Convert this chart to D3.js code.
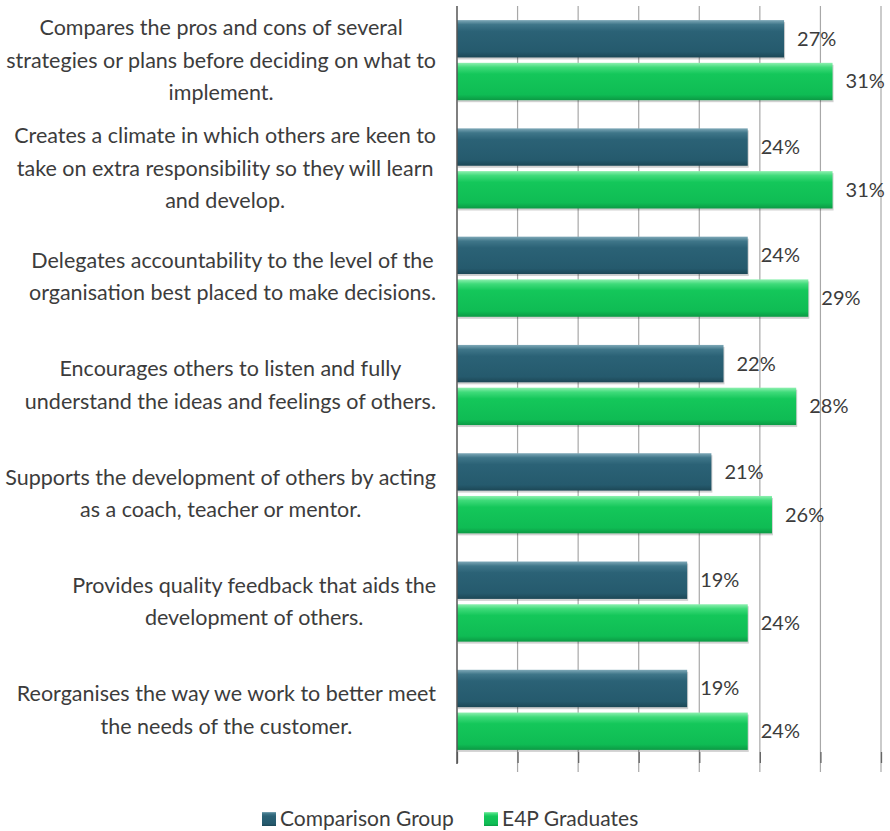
<!DOCTYPE html>
<html><head><meta charset="utf-8">
<script src="https://cdn.jsdelivr.net/npm/d3@7"></script>
<style>body{margin:0;background:#fff;} text{font-family:Lato,"Open Sans",sans-serif;}</style>
</head><body><svg id="c" width="890" height="831"></svg>
<script>
const categories = [
  ["Compares the pros and cons of several","strategies or plans before deciding on what to","implement."],
  ["Creates a climate in which others are keen to","take on extra responsibility so they will learn","and develop."],
  ["Delegates accountability to the level of the","organisation best placed to make decisions."],
  ["Encourages others to listen and fully","understand the ideas and feelings of others."],
  ["Supports the development of others by acting","as a coach, teacher or mentor."],
  ["Provides quality feedback that aids the","development of others."],
  ["Reorganises the way we work to better meet","the needs of the customer."]
];
const seriesNames = ["Comparison Group","E4P Graduates"];
const comparison = [27,24,24,22,21,19,19];
const graduates = [31,31,29,28,26,24,24];
const ticks = [0,5,10,15,20,25,30,35];

const svg = d3.select("#c");
const x = d3.scaleLinear().domain([0,35]).range([457,881]);
const y = d3.scaleBand().domain(d3.range(categories.length)).range([6,764]).paddingInner(0.26).paddingOuter(0.13);
const y1 = d3.scaleBand().domain([0,1]).range([0,y.bandwidth()]).paddingInner(0.125);

const defs = svg.append("defs");
function grad(id, stops){
  const g = defs.append("linearGradient").attr("id",id).attr("x1",0).attr("x2",0).attr("y1",0).attr("y2",1);
  stops.forEach(s=>g.append("stop").attr("offset",s[0]).attr("stop-color",s[1]));
}
grad("gDark",[[0,"#7fa9b8"],[0.12,"#3f7689"],[0.3,"#2b6276"],[0.85,"#255a6d"],[1,"#1c4756"]]);
grad("gGreen",[[0,"#8ef0b0"],[0.12,"#3fdb7a"],[0.3,"#14c75a"],[0.85,"#0fbc54"],[1,"#0b9a44"]]);

// gridlines
svg.append("g").selectAll("line").data(ticks.slice(1)).join("line")
  .attr("x1",d=>x(d)).attr("x2",d=>x(d)).attr("y1",6).attr("y2",772)
  .attr("stroke","#a8a8a8").attr("stroke-width",1.2);

// bottom ticks
svg.append("g").attr("transform","translate(0,752)")
  .call(d3.axisBottom(x).tickValues(ticks).tickSize(11).tickFormat(""))
  .call(g=>g.select(".domain").remove())
  .call(g=>g.selectAll("line").attr("stroke","#666").attr("stroke-width",1.3));

const groups = svg.append("g").selectAll("g").data(categories).join("g")
  .attr("transform",(d,i)=>`translate(0,${y(i)})`);

const vals = [comparison, graduates];
const fills = ["url(#gDark)","url(#gGreen)"];
[0,1].forEach(s=>{
  groups.append("rect")
    .attr("x",x(0)+1).attr("y",y1(s)+2)
    .attr("width",(d,i)=>x(vals[s][i])-x(0)).attr("height",y1.bandwidth())
    .attr("fill","#000").attr("opacity",0.18);
  groups.append("rect")
    .attr("x",x(0)).attr("y",y1(s))
    .attr("width",(d,i)=>x(vals[s][i])-x(0)).attr("height",y1.bandwidth())
    .attr("fill",fills[s]);
  groups.append("text")
    .attr("x",(d,i)=>x(vals[s][i])+13).attr("y",y1(s)+y1.bandwidth()/2)
    .attr("dy","0.35em").attr("font-size",20).attr("fill","#3c3c3c")
    .text((d,i)=>vals[s][i]+"%");
});

// left axis line
svg.append("line").attr("x1",x(0)).attr("x2",x(0)).attr("y1",6).attr("y2",764)
  .attr("stroke","#555").attr("stroke-width",1.5);

// category labels
const lh = 32.5;
groups.each(function(lines,i){
  const g = d3.select(this);
  const cy = y.bandwidth()/2;
  const t = g.append("g");
  const texts = lines.map((l,k)=>t.append("text").attr("font-size",21.5).attr("fill","#3c3c3c")
     .attr("text-anchor","middle").attr("dy","0.35em")
     .attr("y",cy+(k-(lines.length-1)/2)*lh).text(l));
  const maxW = d3.max(texts,tx=>tx.node().getComputedTextLength());
  texts.forEach(tx=>tx.attr("x",436-maxW/2));
});

// legend
const leg = svg.append("g");
const legX = [262,484];
seriesNames.forEach((n,s)=>{
  leg.append("rect").attr("x",legX[s]).attr("y",812).attr("width",14).attr("height",14).attr("fill",fills[s]);
  leg.append("text").attr("x",legX[s]+18).attr("y",819).attr("dy","0.35em")
    .attr("font-size",21).attr("fill","#3c3c3c").text(n);
});
</script></body></html>
